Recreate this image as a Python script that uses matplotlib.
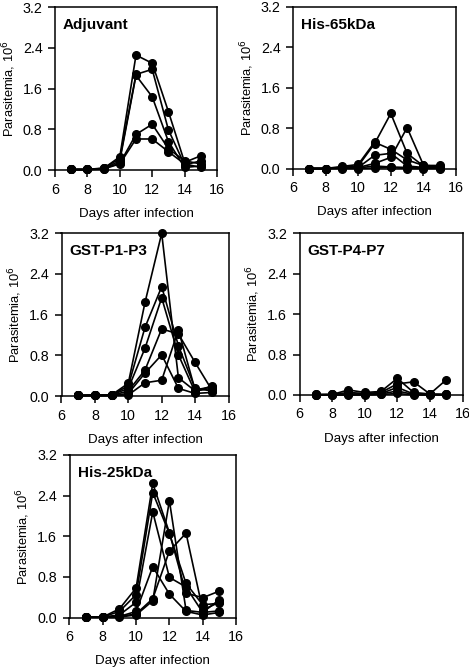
import matplotlib
matplotlib.use("Agg")
from matplotlib import pyplot as plt
from matplotlib.ticker import FormatStrFormatter

plt.rcParams['font.family'] = ['Liberation Sans', 'DejaVu Sans']

days = [7, 8, 9, 10, 11, 12, 13, 14, 15]

# parasitemia (10^6) per mouse, one list per mouse
adjuvant = [
    [0.01, 0.01, 0.03, 0.26, 2.26, 2.10, 1.15, 0.15, 0.28],
    [0.01, 0.01, 0.04, 0.22, 1.88, 1.98, 0.79, 0.10, 0.18],
    [0.01, 0.01, 0.02, 0.18, 1.86, 1.44, 0.56, 0.05, 0.08],
    [0.01, 0.01, 0.03, 0.13, 0.70, 0.90, 0.42, 0.18, 0.12],
    [0.01, 0.01, 0.02, 0.12, 0.61, 0.61, 0.36, 0.12, 0.05],
]
his65 = [
    [0.00, 0.00, 0.02, 0.05, 0.49, 1.09, 0.30, 0.05, 0.02],
    [0.00, 0.00, 0.04, 0.08, 0.52, 0.38, 0.17, 0.06, 0.06],
    [0.00, 0.00, 0.02, 0.02, 0.26, 0.30, 0.05, 0.02, 0.01],
    [0.00, 0.00, 0.01, 0.02, 0.10, 0.22, 0.81, 0.07, 0.03],
    [0.00, 0.00, 0.01, 0.01, 0.05, 0.03, 0.02, 0.01, 0.01],
    [0.00, 0.00, 0.00, 0.00, 0.01, 0.02, 0.00, 0.00, 0.00],
]
gst_p1p3 = [
    [0.01, 0.02, 0.02, 0.25, 1.84, 3.20, 0.36, 0.10, 0.15],
    [0.01, 0.02, 0.02, 0.20, 1.35, 2.15, 0.99, 0.15, 0.10],
    [0.01, 0.01, 0.02, 0.15, 0.94, 1.93, 0.81, 0.08, 0.20],
    [0.01, 0.01, 0.01, 0.10, 0.51, 1.32, 1.22, 0.66, 0.12],
    [0.01, 0.01, 0.01, 0.05, 0.45, 0.81, 0.15, 0.05, 0.07],
    [0.01, 0.01, 0.01, 0.02, 0.26, 0.31, 1.30, 0.12, 0.18],
]
gst_p4p7 = [
    [0.01, 0.01, 0.10, 0.05, 0.07, 0.33, 0.05, 0.02, 0.30],
    [0.01, 0.01, 0.05, 0.03, 0.05, 0.22, 0.26, 0.02, 0.01],
    [0.00, 0.01, 0.02, 0.02, 0.03, 0.15, 0.02, 0.01, 0.01],
    [0.00, 0.00, 0.01, 0.01, 0.02, 0.08, 0.01, 0.01, 0.01],
    [0.00, 0.00, 0.00, 0.00, 0.01, 0.03, 0.00, 0.00, 0.00],
]
his25 = [
    [0.01, 0.01, 0.17, 0.58, 2.64, 1.67, 0.48, 0.39, 0.52],
    [0.01, 0.01, 0.12, 0.45, 2.46, 1.65, 0.67, 0.25, 0.28],
    [0.01, 0.01, 0.05, 0.30, 2.08, 0.79, 0.60, 0.10, 0.35],
    [0.01, 0.01, 0.02, 0.12, 1.00, 0.46, 0.12, 0.05, 0.10],
    [0.01, 0.01, 0.02, 0.07, 0.37, 1.31, 1.66, 0.15, 0.30],
    [0.01, 0.01, 0.01, 0.05, 0.33, 2.30, 0.14, 0.10, 0.13],
]

panels = [
    ("Adjuvant", adjuvant, (55, 217, 7.3, 170)),
    ("His-65kDa", his65, (293, 456, 7.0, 168.5)),
    ("GST-P1-P3", gst_p1p3, (61.5, 228.5, 233.3, 396)),
    ("GST-P4-P7", gst_p4p7, (299.5, 462.5, 233.3, 395)),
    ("His-25kDa", his25, (69.5, 236, 455, 617.5)),
]

W, H = 469, 669
fig = plt.figure(figsize=(W / 100, H / 100), dpi=100)

for name, mice, (x0, x1, ytop, ybot) in panels:
    ax = fig.add_axes([x0 / W, 1 - ybot / H, (x1 - x0) / W, (ybot - ytop) / H])
    for vals in mice:
        ax.plot(days, vals, color="black", lw=1.2, marker="o", ms=5.5,
                mfc="black", mec="black", clip_on=False, zorder=3)
    ax.set_xlim(6, 16)
    ax.set_ylim(0, 3.2)
    ax.set_xticks([6, 8, 10, 12, 14, 16])
    ax.set_yticks([0, 0.8, 1.6, 2.4, 3.2])
    ax.yaxis.set_major_formatter(FormatStrFormatter("%.1f"))
    ax.tick_params(direction="out", length=5, width=1.1, labelsize=10.3, pad=4)
    for sp in ax.spines.values():
        sp.set_linewidth(1.1)
    ax.set_xlabel("Days after infection", fontsize=9.6, labelpad=8)
    ax.set_ylabel("Parasitemia, 10$^6$", fontsize=9.3, labelpad=3.5)
    ax.text(0.05, 0.89, name, transform=ax.transAxes, fontsize=11,
            fontweight="bold", va="center", ha="left")

fig.savefig("out.png", dpi=100)
